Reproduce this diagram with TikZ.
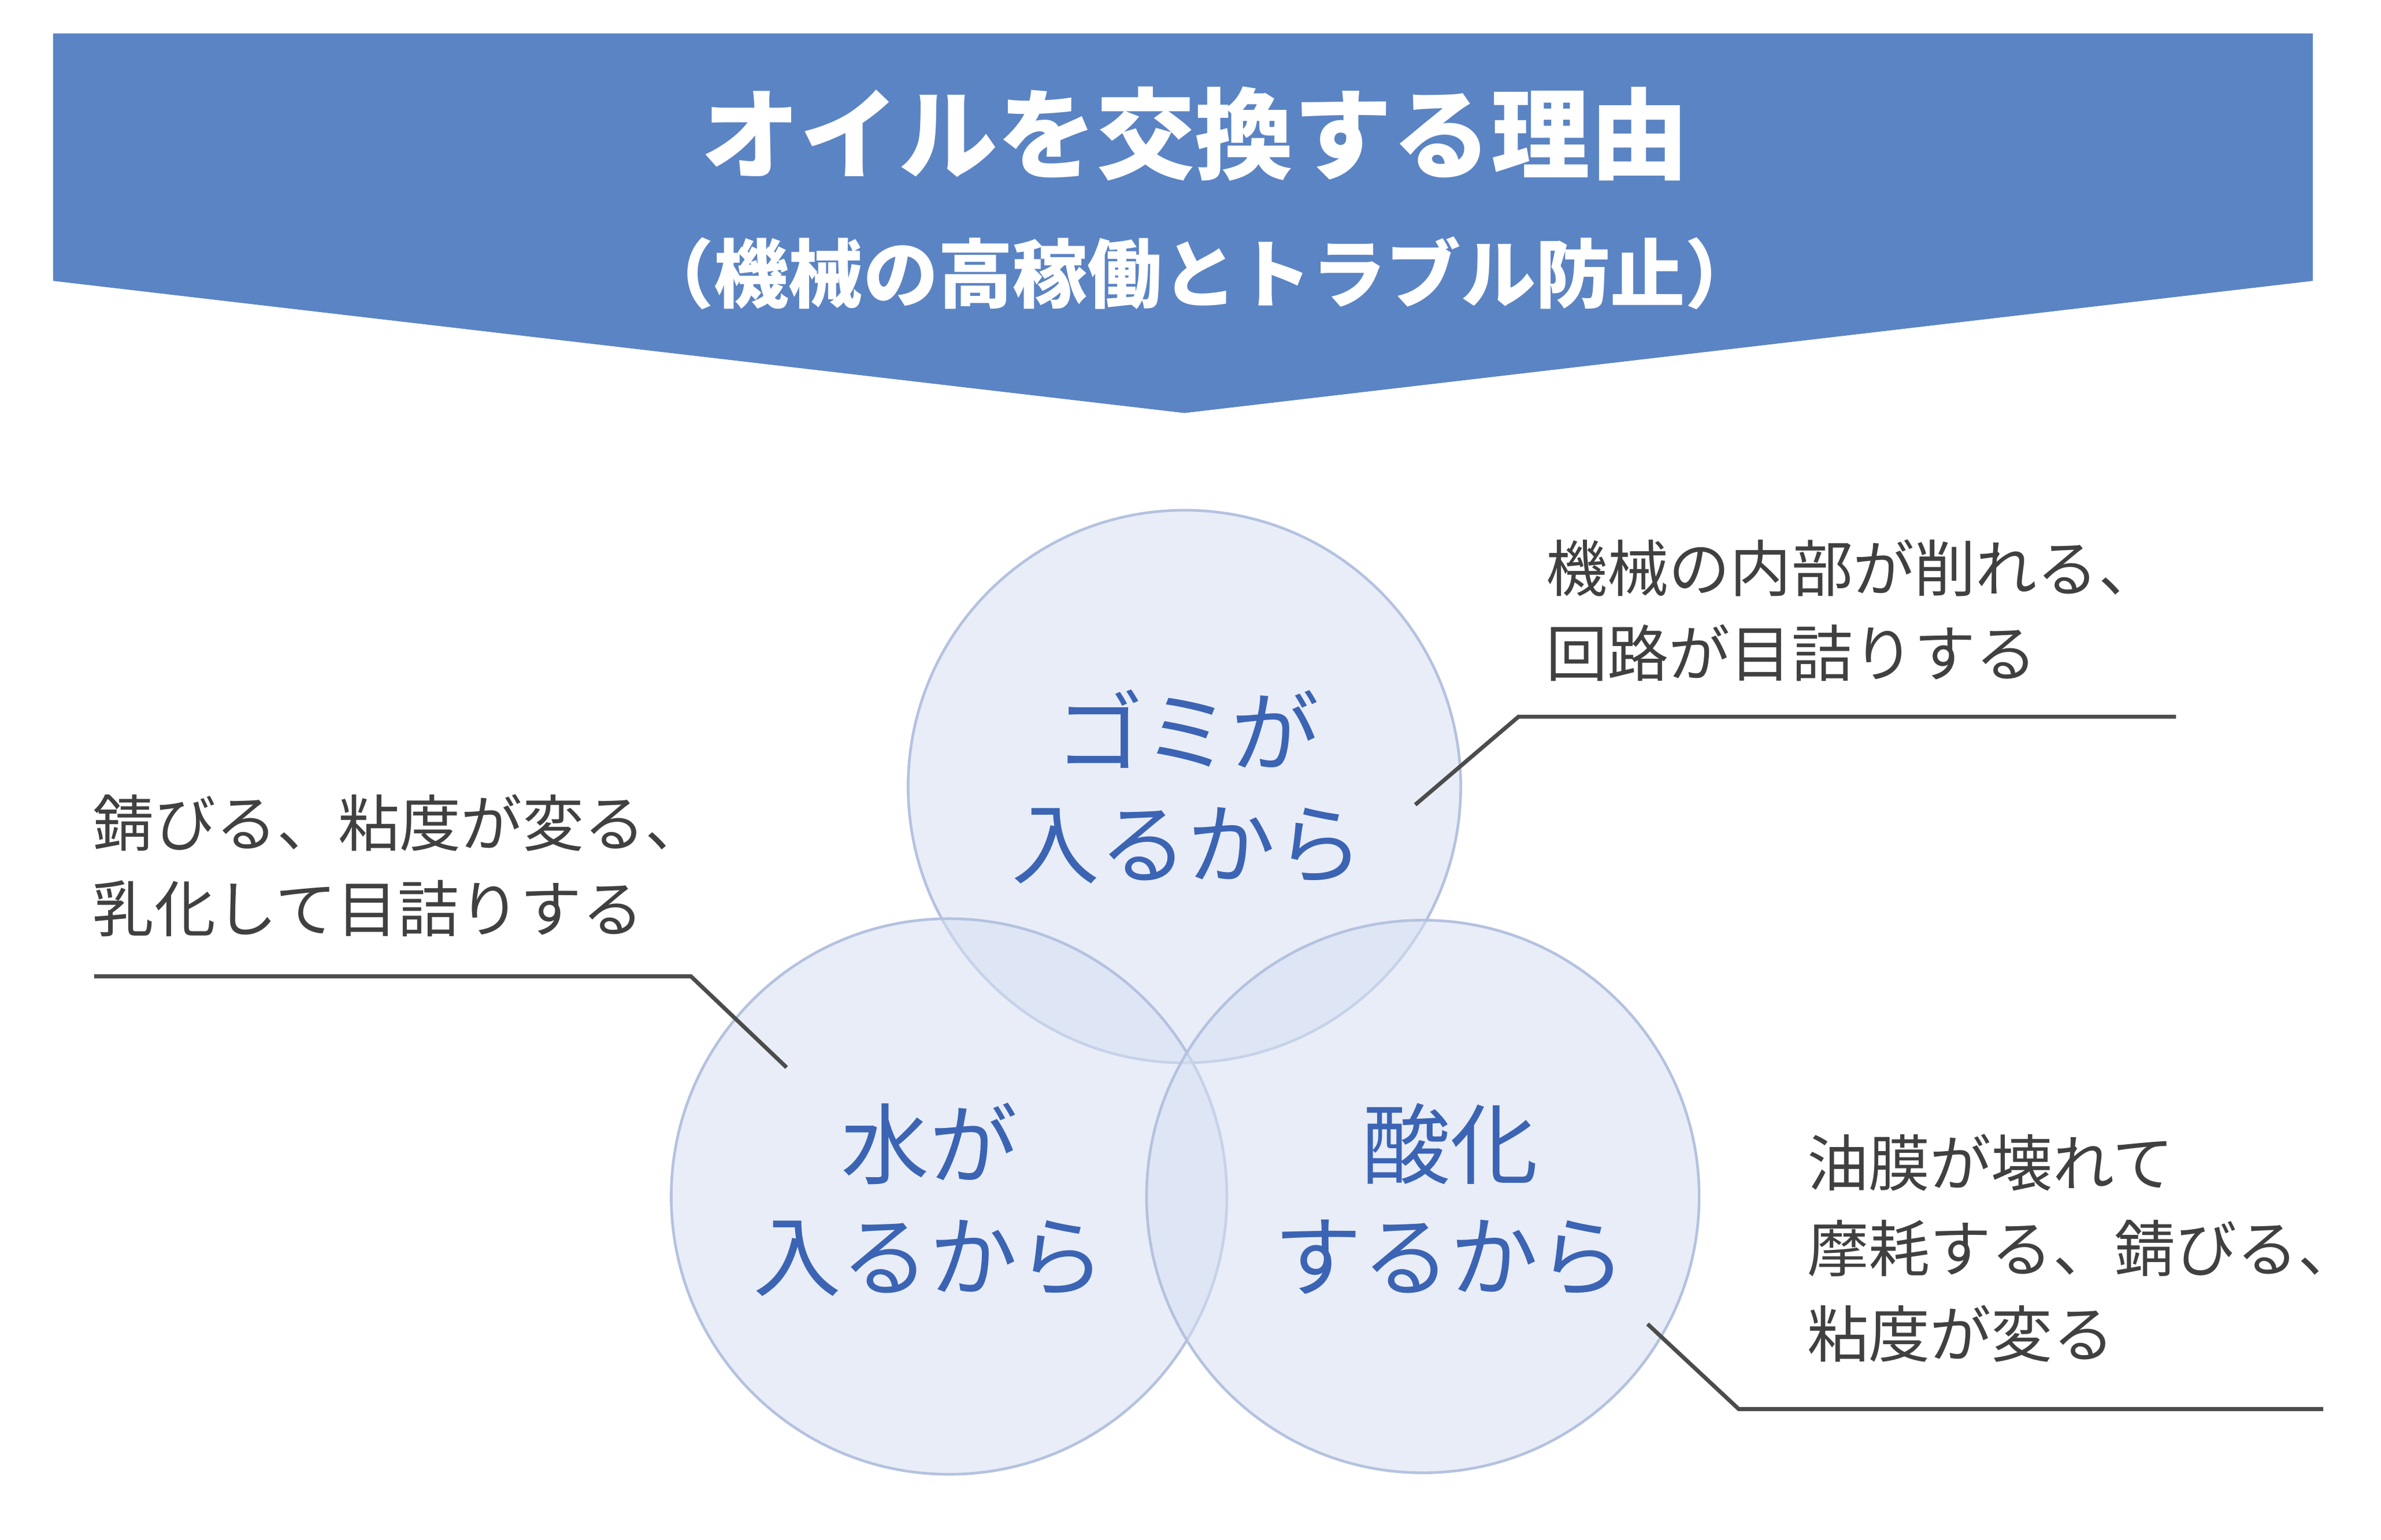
\documentclass[tikz,border=0pt]{standalone}
\usepackage{fontspec}
\newfontfamily\jp{Noto Sans CJK JP}
\definecolor{banner}{HTML}{5B84C4}
\definecolor{ctext}{HTML}{3C64B4}
\definecolor{cedge}{HTML}{B4C2E0}
\definecolor{cfill}{HTML}{D6E0F2}
\begin{document}
\begin{tikzpicture}[x=0.02cm,y=-0.02cm,
  circ/.style={draw=cedge,line width=1pt,fill=cfill,fill opacity=0.55},
  ctxt/.style={text=ctext,font=\jp\fontsize{33}{42}\selectfont,align=center},
  lbl/.style={text=black!75,font=\jp\fontsize{23}{32}\selectfont,align=left,anchor=west},
  lead/.style={draw=black!70,line width=1.5pt}]
\useasboundingbox (0,0) rectangle (1568,1014);
\fill[white] (0,0) rectangle (1568,1014);
\fill[banner] (35,22) -- (1523,22) -- (1523,185) -- (780,272) -- (35,185) -- cycle;
\node[text=white,font=\jp\bfseries\fontsize{37}{40}\selectfont] (t1) at (787,88) {オイルを交換する理由};
\node[text=white,font=\jp\bfseries\fontsize{28}{32}\selectfont] (t2) at (790,180) {（機械の高稼働とトラブル防止）};
\node[circ,circle,minimum size=7.28cm] (ct) at (780,518) {};
\node[circ,circle,minimum size=7.32cm] (cl) at (625,788) {};
\node[circ,circle,minimum size=7.28cm] (cr) at (937,788) {};
\node[ctxt] (tt) at (782,518) {ゴミが\\入るから};
\node[ctxt] (tl) at (612,790) {水が\\入るから};
\node[ctxt] (tr) at (955,790) {酸化\\するから};
\node[lbl] (l1) at (1012,402) {機械の内部が削れる、\\回路が目詰りする};
\node[lbl] (l2) at (55,570) {錆びる、粘度が変る、\\乳化して目詰りする};
\node[lbl] (l3) at (1184,822) {油膜が壊れて\\摩耗する、錆びる、\\粘度が変る};
\coordinate (a1) at (932,530); \coordinate (a2) at (1000,472); \coordinate (a3) at (1433,472);
\draw[lead] (a1) -- (a2) -- (a3);
\coordinate (b1) at (62,643); \coordinate (b2) at (455,643); \coordinate (b3) at (518,703);
\draw[lead] (b1) -- (b2) -- (b3);
\coordinate (c1) at (1085,872); \coordinate (c2) at (1145,928); \coordinate (c3) at (1530,928);
\draw[lead] (c1) -- (c2) -- (c3);
\end{tikzpicture}
\end{document}
